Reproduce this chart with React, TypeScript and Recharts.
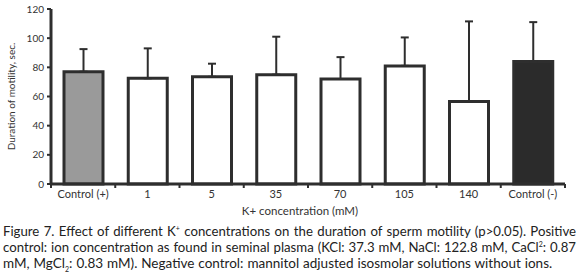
import React from 'react';
import { BarChart, Bar, XAxis, YAxis, ErrorBar, Cell } from 'recharts';

const categories = ['Control (+)', '1', '5', '35', '70', '105', '140', 'Control (-)'];
const meanValues = [77, 72.5, 73.5, 75, 72, 81, 56.5, 84];
const upperErrors = [15.5, 20.5, 9, 26, 15, 19.5, 55, 27];
const barFills = ['#9a9a9a', '#ffffff', '#ffffff', '#ffffff', '#ffffff', '#ffffff', '#ffffff', '#2b2b2b'];
const yTicks = [0, 20, 40, 60, 80, 100, 120];

const data = categories.map((name, i) => ({
  name,
  value: meanValues[i],
  err: [0, upperErrors[i]],
}));

const FONT = 'Lato, "DejaVu Sans", sans-serif';
const INK = '#2e2e2e';

const XTick = (props: any) => {
  const { x, y, payload, index, width, visibleTicksCount } = props;
  const half =
    payload && typeof payload.offset === 'number' && payload.offset > 0
      ? payload.offset
      : width / (visibleTicksCount || categories.length) / 2;
  const isLast = index === (visibleTicksCount || categories.length) - 1;
  return (
    <g>
      <line x1={x - half} x2={x - half} y1={y} y2={y + 4} stroke={INK} strokeWidth={2} />
      {isLast && <line x1={x + half} x2={x + half} y1={y} y2={y + 4} stroke={INK} strokeWidth={2} />}
      <text x={x} y={y + 14} textAnchor="middle" fontSize={11} fontFamily={FONT} fill="#333">
        {payload.value}
      </text>
    </g>
  );
};

export default function App() {
  return (
    <div style={{ position: 'absolute', left: 0, top: 0, width: 578, height: 273, background: '#fff', overflow: 'hidden' }}>
      <BarChart
        width={578}
        height={220}
        data={data}
        margin={{ top: 9, right: 13, left: 0, bottom: 0 }}
        barSize={39}
      >
        <XAxis
          dataKey="name"
          height={36}
          tickSize={0}
          tickMargin={0}
          tickLine={false}
          interval={0}
          axisLine={{ stroke: INK, strokeWidth: 3 }}
          tick={<XTick />}
          label={{
            value: 'K+ concentration (mM)',
            position: 'insideBottom',
            offset: 5,
            dx: -8,
            style: { fontSize: 11.5, fontFamily: FONT, fill: '#333' },
          }}
        />
        <YAxis
          width={51}
          domain={[0, 120]}
          ticks={yTicks}
          interval={0}
          tickSize={4}
          tickMargin={3}
          axisLine={{ stroke: INK, strokeWidth: 3 }}
          tickLine={{ stroke: INK, strokeWidth: 2 }}
          tick={{ fontSize: 10, fontFamily: FONT, fill: '#333' }}
          label={{
            value: 'Duration of motility, sec.',
            angle: -90,
            position: 'insideLeft',
            offset: 11,
            style: { textAnchor: 'middle', fontSize: 10, fontFamily: FONT, fill: '#333' },
          }}
        />
        <Bar dataKey="value" stroke={INK} strokeWidth={3} isAnimationActive={false}>
          {data.map((d, i) => (
            <Cell key={d.name} fill={barFills[i]} />
          ))}
          <ErrorBar dataKey="err" direction="y" width={4} strokeWidth={2} stroke={INK} isAnimationActive={false} />
        </Bar>
      </BarChart>
      <div
        style={{
          position: 'absolute',
          left: 3,
          top: 223,
          width: 573,
          fontFamily: FONT,
          fontSize: 13.2,
          lineHeight: '16px',
          color: '#222',
        }}
      >
        <div style={{ textAlign: 'justify', textAlignLast: 'justify' as any, whiteSpace: 'nowrap' }}>
          Figure 7. Effect of different K<sup style={{ fontSize: 7, lineHeight: 0 }}>+</sup> concentrations on the duration of sperm motility (p&gt;0.05). Positive
        </div>
        <div style={{ textAlign: 'justify', textAlignLast: 'justify' as any, whiteSpace: 'nowrap' }}>
          control: ion concentration as found in seminal plasma (KCl: 37.3 mM, NaCl: 122.8 mM, CaCl<sup style={{ fontSize: 7, lineHeight: 0 }}>2</sup>: 0.87
        </div>
        <div style={{ whiteSpace: 'nowrap', fontSize: 13.5, wordSpacing: 0.5 }}>
          mM, MgCl<sub style={{ fontSize: 7, lineHeight: 0 }}>2</sub>: 0.83 mM). Negative control: mannitol adjusted isosmolar solutions without ions.
        </div>
      </div>
    </div>
  );
}
